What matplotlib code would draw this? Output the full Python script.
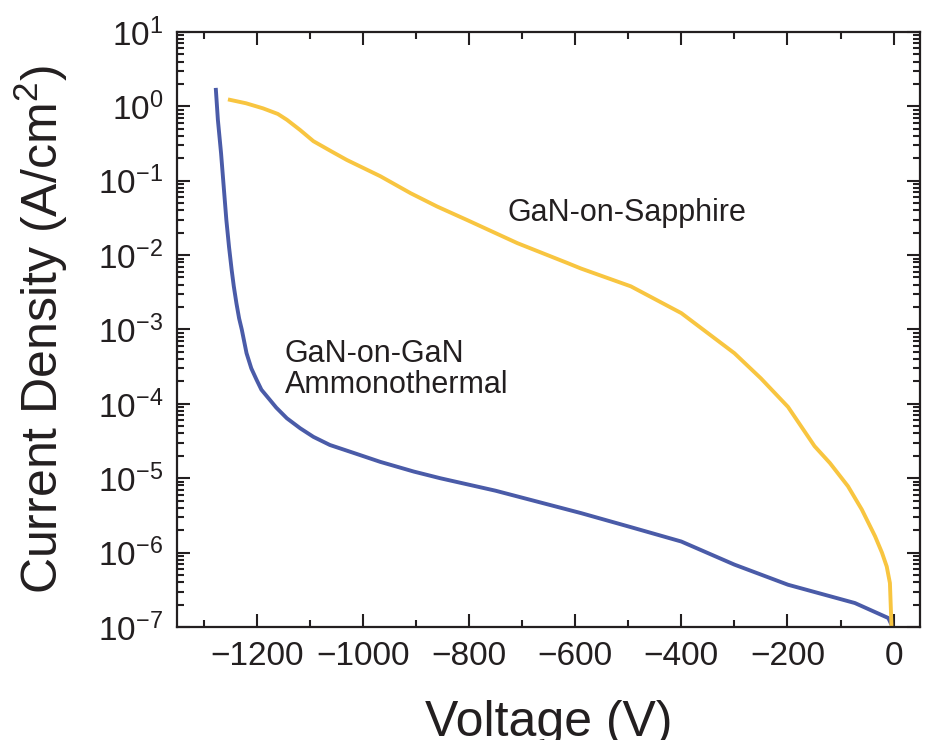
import numpy as np
import matplotlib
matplotlib.use("Agg")
import matplotlib.pyplot as plt
from matplotlib.ticker import MultipleLocator, LogLocator, NullFormatter

plt.rcParams['font.family'] = ['Liberation Sans', 'DejaVu Sans']
plt.rcParams['mathtext.fontset'] = 'custom'
plt.rcParams['mathtext.rm'] = 'Liberation Sans'
plt.rcParams['mathtext.it'] = 'Liberation Sans:italic'

# GaN-on-GaN (ammonothermal) reverse I-V
gan_v = [-1277, -1273, -1267, -1262, -1257, -1252, -1247, -1243, -1238, -1233,
         -1228, -1219, -1210, -1200, -1191, -1175, -1163, -1143, -1118, -1093,
         -1062, -1018, -967, -904, -854, -750, -589, -495, -400,
         -300, -199, -73, -10, -4]
gan_j = [1.77, 0.66, 0.234, 0.083, 0.0295, 0.0129, 6.3e-3, 3.8e-3, 2.24e-3, 1.41e-3,
         1.0e-3, 4.8e-4, 3.0e-4, 2.1e-4, 1.55e-4, 1.13e-4, 8.9e-5, 6.4e-5, 4.7e-5, 3.6e-5,
         2.8e-5, 2.2e-5, 1.66e-5, 1.23e-5, 1.0e-5, 6.8e-6, 3.4e-6, 2.2e-6, 1.41e-6,
         6.9e-7, 3.7e-7, 2.1e-7, 1.32e-7, 1.07e-7]

# GaN-on-Sapphire
sap_v = [-1254, -1220, -1188, -1160, -1143, -1118, -1093, -1060, -1030, -967,
         -910, -860, -803, -709, -614, -589, -495, -400, -300, -250,
         -199, -149, -120, -86, -60, -35, -22, -13, -7, -4]
sap_j = [1.24, 1.10, 0.94, 0.79, 0.66, 0.48, 0.34, 0.25, 0.19, 0.115,
         0.068, 0.045, 0.0295, 0.0145, 7.8e-3, 6.6e-3, 3.8e-3, 1.66e-3, 4.8e-4, 2.2e-4,
         9.1e-5, 2.7e-5, 1.6e-5, 7.8e-6, 3.8e-6, 1.66e-6, 1.0e-6, 6.5e-7, 3.9e-7, 1.0e-7]

blue = '#4a5ba8'
yellow = '#f8c540'
ink = '#231f20'

fig = plt.figure(figsize=(9.38, 7.4), dpi=100)
ax = fig.add_axes([0.1887, 0.1527, 0.981 - 0.1887, 0.9568 - 0.1527])

ax.plot(gan_v, gan_j, color=blue, lw=2.8, solid_capstyle='butt', solid_joinstyle='round')
ax.plot(sap_v, sap_j, color=yellow, lw=2.8, solid_capstyle='butt', solid_joinstyle='round')

ax.set_yscale('log')
ax.set_xlim(-1350, 50)
ax.set_ylim(1e-7, 1e1)

ax.xaxis.set_major_locator(MultipleLocator(200))
ax.xaxis.set_minor_locator(MultipleLocator(100))
ax.yaxis.set_major_locator(LogLocator(base=10, numticks=20))
ax.yaxis.set_minor_locator(LogLocator(base=10, subs=np.arange(2, 10), numticks=20))
ax.yaxis.set_minor_formatter(NullFormatter())

ax.tick_params(which='both', direction='in', top=True, right=True,
               color=ink, width=1.5, labelsize=24, labelcolor=ink, pad=10)
ax.tick_params(which='major', length=9.5)
ax.tick_params(which='minor', length=5)
for s in ax.spines.values():
    s.set_linewidth(1.6)
    s.set_color(ink)

ax.set_xlabel('Voltage (V)', fontsize=36, color=ink, labelpad=20)
ax.set_ylabel('Current Density (A/cm$^2$)', fontsize=36, color=ink, labelpad=20)

ax.text(-727, 10**-1.54, 'GaN-on-Sapphire', fontsize=22, color=ink,
        ha='left', va='baseline')
ax.text(-1147, 10**-3.44, 'GaN-on-GaN', fontsize=22, color=ink,
        ha='left', va='baseline')
ax.text(-1147, 10**-3.86, 'Ammonothermal', fontsize=22, color=ink,
        ha='left', va='baseline')

fig.savefig('out.png', dpi=100)
